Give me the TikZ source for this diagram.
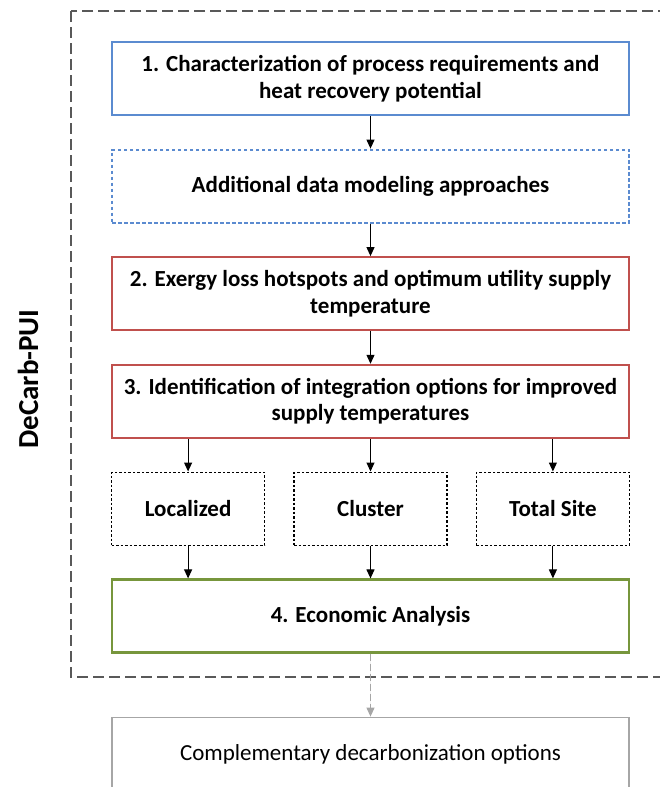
\documentclass[tikz,border=0pt]{standalone}
\usepackage{fontspec}
\setmainfont{Carlito}
\usepackage{xcolor}
\usetikzlibrary{arrows.meta,positioning}
\definecolor{stepblue}{HTML}{5B8BD0}
\definecolor{stepred}{HTML}{C0504D}
\definecolor{stepgreen}{HTML}{77963C}
\definecolor{framegray}{HTML}{595959}
\definecolor{outgray}{HTML}{A6A6A6}

\begin{document}
\begin{tikzpicture}[
  x=1pt, y=1pt,
  node distance=32.5pt,
  box/.style={rectangle, draw, line width=2.2pt, minimum width=517pt, minimum height=73pt, align=center, inner sep=0pt, font=\fontsize{23}{26.5}\selectfont\bfseries},
  procbox/.style={box, draw=stepblue},
  databox/.style={box, draw=stepblue, line width=2pt, dash pattern=on 3.5pt off 2.5pt},
  exbox/.style={box, draw=stepred},
  econbox/.style={box, draw=stepgreen},
  optbox/.style={box, draw=black, line width=1.4pt, dash pattern=on 2.5pt off 2pt, minimum width=153pt},
  compbox/.style={box, draw=outgray, line width=1.6pt, font=\fontsize{23}{26.5}\selectfont},
  arrow/.style={-{Triangle[length=9pt, width=8pt]}, line width=1.1pt},
  grayarrow/.style={arrow, draw=outgray, fill=outgray, dash pattern=on 7pt off 3pt},
]
  \useasboundingbox (0,0) rectangle (660,-787);

  \node[procbox] (proc) at (370.5,-78.5) {1. Characterization of process requirements and\\heat recovery potential};
  \node[databox, below=of proc] (data) {Additional data modeling approaches};
  \node[exbox, below=of data] (exergy) {2. Exergy loss hotspots and optimum utility supply\\temperature};
  \node[exbox, below=of exergy] (integ) {3. Identification of integration options for improved\\supply temperatures};
  \node[optbox, below=of integ] (cluster) {Cluster};
  \node[optbox, left=28pt of cluster] (local) {Localized};
  \node[optbox, right=28pt of cluster] (tsite) {Total Site};
  \node[econbox, below=of cluster] (econ) {4. Economic Analysis};
  \node[compbox, below=63pt of econ] (compl) {Complementary decarbonization options};

  % framework boundary
  \draw[framegray, line width=1.5pt, dash pattern=on 11pt off 5pt] (71,-11) rectangle (672,-677);
  \node[rotate=90, font=\fontsize{29}{34}\selectfont\bfseries] (decarb) at (28,-379) {DeCarb-PUI};

  \draw[arrow] (proc) -- (data);
  \draw[arrow] (data) -- (exergy);
  \draw[arrow] (exergy) -- (integ);
  \draw[arrow] (integ.south -| local) -- (local);
  \draw[arrow] (integ) -- (cluster);
  \draw[arrow] (integ.south -| tsite) -- (tsite);
  \draw[arrow] (local) -- (econ.north -| local);
  \draw[arrow] (cluster) -- (econ);
  \draw[arrow] (tsite) -- (econ.north -| tsite);
  \draw[grayarrow] (econ) -- (compl);
\end{tikzpicture}
\end{document}
